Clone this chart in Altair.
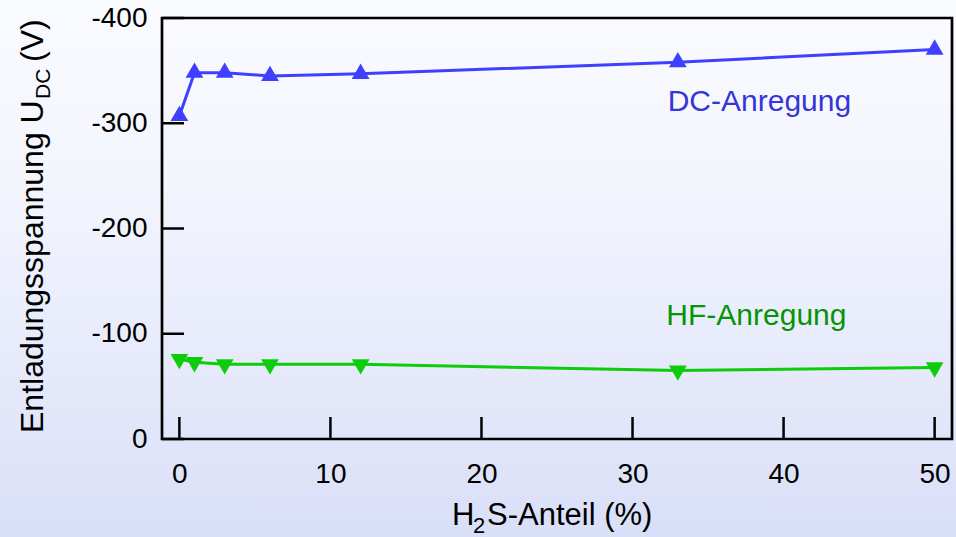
import altair as alt
import pandas as pd

# H2S share in the gas mixture (%) and the measured discharge voltage (V)
anteil = [0, 1, 3, 6, 12, 33, 50]
u_dc = [-307, -348, -348, -345, -347, -358, -370]
u_hf = [-76, -73, -71, -71, -71, -65, -68]

x_ticks = [0, 10, 20, 30, 40, 50]
y_ticks = [-400, -300, -200, -100, 0]

series_labels = ["DC-Anregung", "HF-Anregung"]
label_x = [38.4, 38.2]
label_u = [-320, -117]

W, H = 790, 421
TICK = 22
FONT = "Liberation Sans"
DC_COLOR = "#3f3fff"
HF_COLOR = "#0ccc0c"

dc = pd.DataFrame({"anteil": anteil, "u": u_dc})
hf = pd.DataFrame({"anteil": anteil, "u": u_hf})
labels = pd.DataFrame({"anteil": label_x, "u": label_u, "text": series_labels})
xt = pd.DataFrame({"anteil": x_ticks})
yt = pd.DataFrame({"u": y_ticks})

x_scale = alt.Scale(domain=[-1.15, 51.15], nice=False, zero=False)
y_scale = alt.Scale(domain=[-400, 0], reverse=True, nice=False, zero=False)

x_enc = alt.X(
    "anteil:Q", scale=x_scale,
    axis=alt.Axis(
        values=x_ticks, title=None, domain=False, grid=False, ticks=False,
        labelPadding=21, labelFontSize=28, labelFont=FONT, labelColor="black",
        labelFlush=False, labelOverlap=False, zindex=1,
    ),
)
y_enc = alt.Y(
    "u:Q", scale=y_scale,
    axis=alt.Axis(
        values=y_ticks, title=None, domain=False, grid=False, ticks=False,
        labelPadding=15, labelFontSize=28, labelFont=FONT, labelColor="black",
        labelExpr="datum.value < 0 ? '-' + toString(-datum.value) : toString(datum.value)",
        labelOverlap=False, zindex=1,
    ),
)

one_row = alt.Data(values=[{"k": 1}])

# soft vertical gradient behind the whole figure
background = alt.Chart(one_row).mark_rect(
    color=alt.Gradient(
        gradient="linear",
        stops=[
            alt.GradientStop(color="#fafbff", offset=0),
            alt.GradientStop(color="#f3f5fd", offset=0.35),
            alt.GradientStop(color="#d9dff8", offset=1),
        ],
        x1=0, x2=0, y1=0, y2=1,
    )
).encode(x=alt.value(-162), x2=alt.value(W + 4), y=alt.value(-18), y2=alt.value(H + 98))

# inward-pointing tick marks at the axis tick values
x_tick_rules = alt.Chart(xt).mark_rule(color="black", strokeWidth=2.5).encode(
    x=alt.X("anteil:Q", scale=x_scale), y=alt.value(H), y2=alt.value(H - TICK)
)
y_tick_rules = alt.Chart(yt).mark_rule(color="black", strokeWidth=2.5).encode(
    y=alt.Y("u:Q", scale=y_scale), x=alt.value(0), x2=alt.value(TICK)
)

tri_up = "M0,-1L0.866,0.5L-0.866,0.5Z"
tri_down = "M0,1L0.866,-0.5L-0.866,-0.5Z"

dc_line = alt.Chart(dc).mark_line(color=DC_COLOR, strokeWidth=3).encode(x=x_enc, y=y_enc)
dc_pts = alt.Chart(dc).mark_point(
    shape=tri_up, filled=True, size=420, color=DC_COLOR, opacity=1
).encode(x=x_enc, y=y_enc)

hf_line = alt.Chart(hf).mark_line(color=HF_COLOR, strokeWidth=3).encode(x=x_enc, y=y_enc)
hf_pts = alt.Chart(hf).mark_point(
    shape=tri_down, filled=True, size=420, color=HF_COLOR, opacity=1
).encode(x=x_enc, y=y_enc)

series_text = alt.Chart(labels).mark_text(
    font=FONT, fontSize=30, align="center", baseline="middle"
).encode(
    x=x_enc, y=y_enc, text="text:N",
    color=alt.Color("text:N", scale=alt.Scale(domain=series_labels, range=["#3535d8", "#059405"]), legend=None),
)

frame = alt.Chart(one_row).mark_rect(
    fillOpacity=0, stroke="black", strokeWidth=2.7
).encode(x=alt.value(0), x2=alt.value(W), y=alt.value(0), y2=alt.value(H))

# y-axis title with subscript "DC"
ytitle_main = alt.Chart(one_row).mark_text(
    angle=270, align="left", baseline="alphabetic", font=FONT, fontSize=32, color="black"
).encode(x=alt.value(-119), y=alt.value(415), text=alt.value("Entladungsspannung U"))
ytitle_sub = alt.Chart(one_row).mark_text(
    angle=270, align="left", baseline="alphabetic", font=FONT, fontSize=21, color="black"
).encode(x=alt.value(-112), y=alt.value(81), text=alt.value("DC"))
ytitle_unit = alt.Chart(one_row).mark_text(
    angle=270, align="left", baseline="alphabetic", font=FONT, fontSize=32, color="black"
).encode(x=alt.value(-119), y=alt.value(44), text=alt.value("(V)"))

# x-axis title with subscript "2"
xtitle_h = alt.Chart(one_row).mark_text(
    align="left", baseline="alphabetic", font=FONT, fontSize=31, color="black"
).encode(x=alt.value(290), y=alt.value(507), text=alt.value("H"))
xtitle_sub = alt.Chart(one_row).mark_text(
    align="left", baseline="alphabetic", font=FONT, fontSize=22, color="black"
).encode(x=alt.value(311), y=alt.value(515), text=alt.value("2"))
xtitle_rest = alt.Chart(one_row).mark_text(
    align="left", baseline="alphabetic", font=FONT, fontSize=31, color="black"
).encode(x=alt.value(325), y=alt.value(507), text=alt.value("S-Anteil (%)"))

chart = alt.layer(
    background, dc_line, hf_line, dc_pts, hf_pts, series_text,
    x_tick_rules, y_tick_rules, frame,
    ytitle_main, ytitle_sub, ytitle_unit, xtitle_h, xtitle_sub, xtitle_rest,
).properties(
    width=W, height=H,
    autosize=alt.AutoSizeParams(type="none"),
    padding={"left": 162, "top": 18, "right": 4, "bottom": 98},
    background="#ffffff",
).configure_view(strokeOpacity=0)

chart.save("out.html", embed_options={"renderer": "svg", "actions": False})
